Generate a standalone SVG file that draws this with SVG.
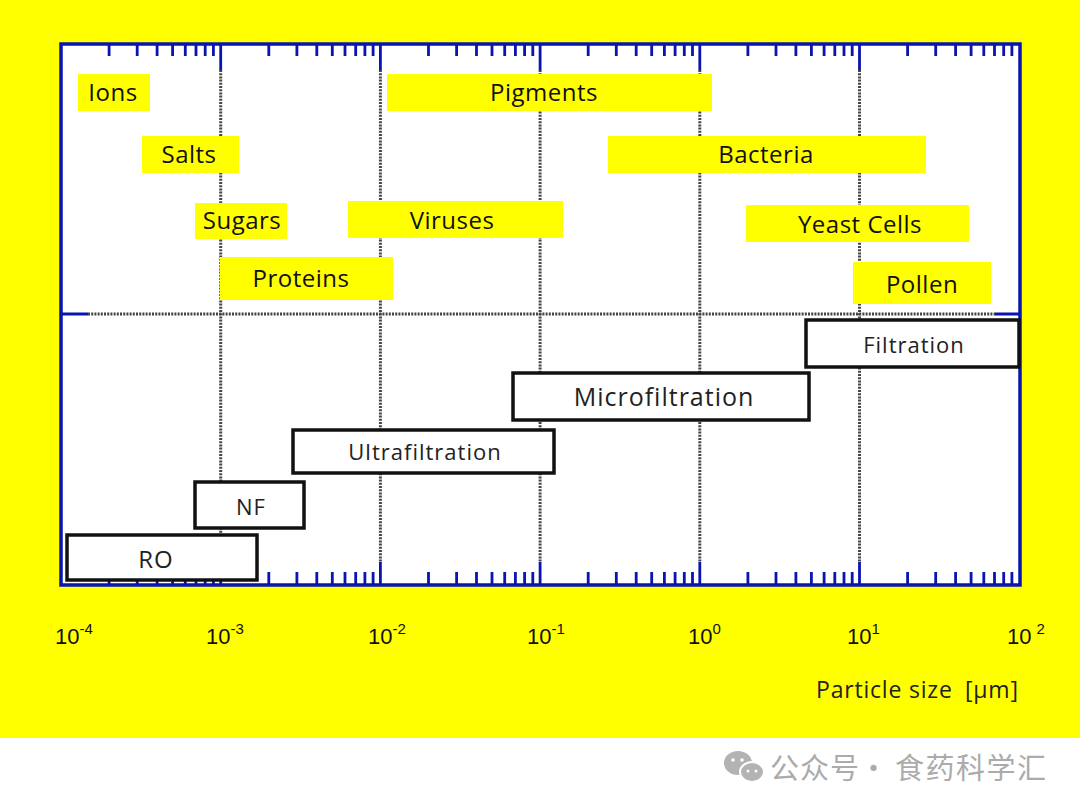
<svg xmlns="http://www.w3.org/2000/svg" width="1080" height="810" viewBox="0 0 1080 810">
<style>
.lbl{fill:#ffff00;stroke:none}
.lt{font-family:"Open Sans","Noto Sans",sans-serif;font-size:24px;letter-spacing:0.5px;fill:#111;text-anchor:middle;dominant-baseline:central}
.pb{fill:#fff;stroke:#111;stroke-width:3.5}
.pt{font-family:"Open Sans","Noto Sans",sans-serif;letter-spacing:1px;fill:#222;text-anchor:middle;dominant-baseline:central}
.ax{font-family:"Liberation Sans",Arial,sans-serif;font-size:22px;fill:#111}
.sup{font-size:15px}
.tick{stroke:#0a14b0;stroke-width:2.8;fill:none}
.grid{stroke:#444;stroke-width:3;stroke-dasharray:2 1.2;fill:none}
</style>
<rect x="0" y="0" width="1080" height="738" fill="#ffff00"/>
<rect x="0" y="738" width="1080" height="72" fill="#ffffff"/>
<rect x="61" y="44" width="959" height="541" fill="#ffffff"/>

<g id="grid">
<path class="grid" d="M220.7 70V562M380.4 70V562M540.1 70V562M699.8 70V562M859.5 70V562"/>
<path class="grid" d="M88 314H995"/>
<path class="tick" stroke-width="3.5" d="M61 314H88M995 314H1020"/>
</g>

<g id="ticks">
<path class="tick" d="M109.1 44v12M137.2 44v12M157.1 44v12M172.6 44v12M185.3 44v12M196 44v12M205.2 44v12M213.4 44v12
M268.8 44v12M296.9 44v12M316.8 44v12M332.3 44v12M345 44v12M355.7 44v12M364.9 44v12M373.1 44v12
M428.5 44v12M456.6 44v12M476.5 44v12M492 44v12M504.7 44v12M515.4 44v12M524.6 44v12M532.8 44v12
M588.2 44v12M616.3 44v12M636.2 44v12M651.7 44v12M664.4 44v12M675.1 44v12M684.3 44v12M692.5 44v12
M747.9 44v12M776 44v12M795.9 44v12M811.4 44v12M824.1 44v12M834.8 44v12M844 44v12M852.2 44v12
M907.6 44v12M935.7 44v12M955.6 44v12M971.1 44v12M983.8 44v12M994.5 44v12M1003.7 44v12M1011.9 44v12"/>
<path class="tick" stroke-width="3.5" d="M220.7 44v26M380.4 44v26M540.1 44v26M699.8 44v26M859.5 44v26"/>
<path class="tick" d="M109.1 585v-13M137.2 585v-13M157.1 585v-13M172.6 585v-13M185.3 585v-13M196 585v-13M205.2 585v-13M213.4 585v-13
M268.8 585v-13M296.9 585v-13M316.8 585v-13M332.3 585v-13M345 585v-13M355.7 585v-13M364.9 585v-13M373.1 585v-13
M428.5 585v-13M456.6 585v-13M476.5 585v-13M492 585v-13M504.7 585v-13M515.4 585v-13M524.6 585v-13M532.8 585v-13
M588.2 585v-13M616.3 585v-13M636.2 585v-13M651.7 585v-13M664.4 585v-13M675.1 585v-13M684.3 585v-13M692.5 585v-13
M747.9 585v-13M776 585v-13M795.9 585v-13M811.4 585v-13M824.1 585v-13M834.8 585v-13M844 585v-13M852.2 585v-13
M907.6 585v-13M935.7 585v-13M955.6 585v-13M971.1 585v-13M983.8 585v-13M994.5 585v-13M1003.7 585v-13M1011.9 585v-13"/>
<path class="tick" stroke-width="3.5" d="M220.7 585v-23M380.4 585v-23M540.1 585v-23M699.8 585v-23M859.5 585v-23"/>
</g>
<rect x="61" y="44" width="959" height="541" fill="none" stroke="#0a14b0" stroke-width="3.5"/>

<g id="ions"><rect class="lbl" x="78" y="74" width="72" height="37"/><text class="lt" x="113" y="91.5">Ions</text></g>
<g id="pigments"><rect class="lbl" x="387" y="74" width="325" height="37"/><text class="lt" x="544" y="91.5">Pigments</text></g>
<g id="salts"><rect class="lbl" x="142" y="136" width="97" height="37"/><text class="lt" x="189" y="153.5">Salts</text></g>
<g id="bacteria"><rect class="lbl" x="608" y="136" width="318" height="37"/><text class="lt" x="766" y="153.5">Bacteria</text></g>
<g id="sugars"><rect class="lbl" x="195" y="203" width="92" height="36"/><text class="lt" x="242" y="219.5">Sugars</text></g>
<g id="viruses"><rect class="lbl" x="348" y="201" width="215" height="37"/><text class="lt" x="452" y="219.5">Viruses</text></g>
<g id="yeast"><rect class="lbl" x="746" y="205" width="223" height="37"/><text class="lt" x="860" y="223.5">Yeast Cells</text></g>
<g id="proteins"><rect class="lbl" x="220" y="257" width="173" height="43" stroke="#8fb4e8" stroke-width="2" stroke-dasharray="2 1.5"/><text class="lt" x="301" y="277.5">Proteins</text></g>
<g id="pollen"><rect class="lbl" x="853" y="262" width="138" height="42"/><text class="lt" x="922" y="283.5">Pollen</text></g>

<g id="filtration"><rect class="pb" x="806" y="320" width="213" height="47"/><text class="pt" x="914" y="344" font-size="22">Filtration</text></g>
<g id="microfiltration"><rect class="pb" x="513" y="373" width="296" height="47"/><text class="pt" x="664" y="396" font-size="25">Microfiltration</text></g>
<g id="ultrafiltration"><rect class="pb" x="293" y="430" width="261" height="43"/><text class="pt" x="425" y="451" font-size="22">Ultrafiltration</text></g>
<g id="nf"><rect class="pb" x="195" y="482" width="109" height="46"/><text class="pt" x="251" y="506" font-size="22">NF</text></g>
<g id="ro"><rect class="pb" x="67" y="535" width="190" height="45"/><text class="pt" x="156" y="558" font-size="24">RO</text></g>

<g id="axis-labels">
<text class="ax" x="55" y="644">10<tspan class="sup" dy="-10">-4</tspan></text>
<text class="ax" x="206" y="644">10<tspan class="sup" dy="-10">-3</tspan></text>
<text class="ax" x="368" y="644">10<tspan class="sup" dy="-10">-2</tspan></text>
<text class="ax" x="527" y="644">10<tspan class="sup" dy="-10">-1</tspan></text>
<text class="ax" x="688" y="644">10<tspan class="sup" dy="-10">0</tspan></text>
<text class="ax" x="847" y="644">10<tspan class="sup" dy="-10">1</tspan></text>
<text class="ax" x="1007" y="644">10<tspan class="sup" dy="-10" dx="5">2</tspan></text>
<text x="816" y="698" font-family="'Open Sans','Noto Sans',sans-serif" font-size="23" letter-spacing="0.8" fill="#222">Particle size<tspan x="965">[μm]</tspan></text>
</g>

<g id="watermark">
<ellipse cx="738" cy="763" rx="14" ry="12" fill="#b3b3b3"/>
<ellipse cx="752" cy="772" rx="12" ry="10" fill="#b3b3b3" stroke="#fff" stroke-width="2"/>
<circle cx="733" cy="760" r="1.8" fill="#fff"/><circle cx="742" cy="760" r="1.8" fill="#fff"/>
<circle cx="748" cy="771" r="1.5" fill="#fff"/><circle cx="756" cy="771" r="1.5" fill="#fff"/>
<text y="779" font-family="'Noto Sans CJK SC',sans-serif" font-size="29" fill="#ababab"><tspan x="770" letter-spacing="1">公众号</tspan><tspan x="859">·</tspan><tspan x="895" letter-spacing="1.5">食药科学汇</tspan></text>
</g>
</svg>
